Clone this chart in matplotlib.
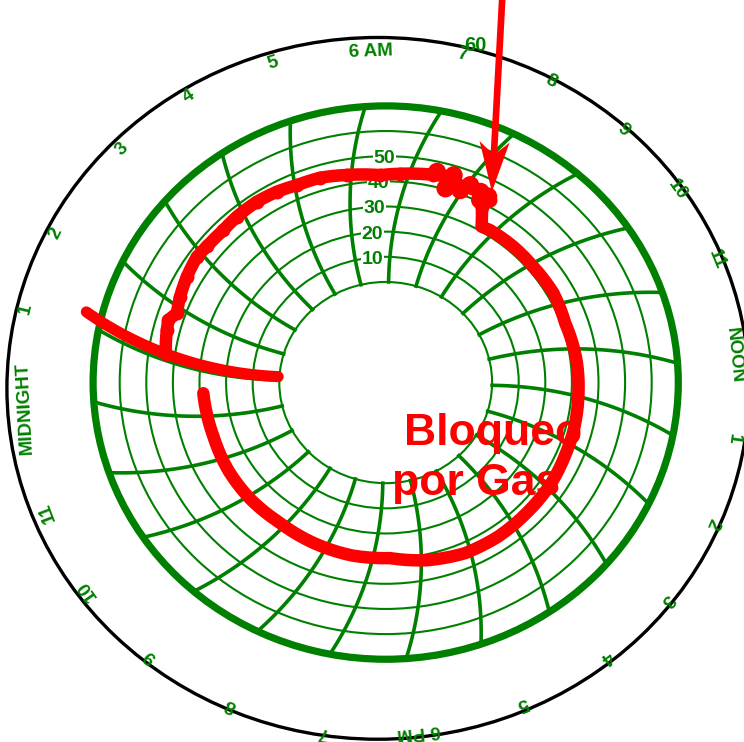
import numpy as np
import matplotlib
matplotlib.use("Agg")
import matplotlib.pyplot as plt
from matplotlib.patches import Polygon, Circle
from matplotlib.lines import Line2D
from matplotlib.transforms import IdentityTransform

plt.rcParams['font.family'] = ['Liberation Sans', 'DejaVu Sans']

GREEN = '#008000'
RED = '#ff0000'

# value scale: 0 sits on the hub circle, 70 on the heavy outer rim
HUB = 40.0
RING_VALUES = [0, 10, 20, 30, 40, 50, 60]
RIM_VALUE = 70
RING_LABELS = [10, 20, 30, 40, 50]
TOP_LABEL = '60'

# clock face, one label per hour of the day (0 = midnight)
HOUR_LABELS = ['MIDNIGHT', '1', '2', '3', '4', '5', '6 AM', '7', '8', '9', '10', '11',
               'NOON', '1', '2', '3', '4', '5', '6 PM', '7', '8', '9', '10', '11']
# printed positions of those labels: bearing (deg, clockwise from top) and
# distance relative to the label circle
HOUR_LABEL_BEARING = [267.0, 283.3, 296.6, 314.1, 327.6, 342.0, 357.9, 12.6, 27.3, 41.2,
                      54.4, 67.6, 84.1, 98.3, 113.1, 127.8, 141.5, 157.2, 174.5, 189.6,
                      204.8, 219.9, 234.8, 249.2]
HOUR_LABEL_DIST = [1.007, 1.032, 1.027, 1.020, 1.022, 1.010, 0.995, 1.009, 1.020, 1.015,
                   1.010, 1.009, 0.985, 0.990, 1.000, 1.004, 1.000, 0.999, 1.008, 1.022,
                   1.021, 1.019, 1.018, 1.010]

# pen set onto the chart: a stroke along the pen arc at a fixed time
SET_HOURS = [1.12, 1.12]
SET_VALUES = [76.0, 0.5]

# recorded trace (clock hours, running past midnight)
TRACE_HOURS = [1.12, 1.53, 1.70, 1.89, 2.17, 2.53, 2.90, 3.15, 3.55, 3.87, 4.29, 4.68,
               5.04, 5.45, 5.93, 6.51, 6.85, 7.39, 7.71, 7.93, 8.11, 8.37, 8.50, 8.47,
               8.73, 8.91, 9.49, 10.07, 10.75, 11.43, 12.25, 12.95, 13.64, 14.26, 14.90,
               15.64, 16.38, 17.11, 17.89, 18.65, 19.43, 20.27, 21.13, 21.93, 22.72,
               23.53, 24.07, 24.51]
TRACE_VALUES = [43.5, 44.9, 45.4, 43.2, 44.5, 45.8, 46.8, 46.3, 46.0, 46.5, 46.7, 46.2,
                45.3, 45.1, 43.8, 42.5, 43.2, 44.5, 45.5, 42.7, 44.0, 44.0, 42.5, 38.7,
                31.7, 32.2, 32.3, 32.1, 32.4, 31.5, 32.3, 32.6, 33.1, 33.4, 34.0,
                34.1, 34.4, 34.1, 32.3, 29.8, 29.9, 29.3, 28.5, 28.8, 28.7,
                28.2, 28.4, 28.7]

# ink blots where the pen chattered before the drop
BLOT_HOURS = [7.43, 7.71, 7.71, 7.96, 8.05, 8.27, 8.43, 8.36]
BLOT_VALUES = [46.0, 46.3, 40.4, 41.5, 44.7, 43.8, 43.4, 40.8]

ARROW_AT = (8.42, 45.7)
NOTE_LINES = ['Bloqueo', 'por Gas']

# chart geometry
ANGLE_6AM = -4.0          # printed face is turned slightly anticlockwise
PIVOT = 137.6             # pen pivot distance from chart centre
ARM = 131.0               # pen arm length
LABEL_CENTRE = (-0.6, -3.0)
LABEL_RADII = (135.0, 136.0)
BORDER_CENTRE = (-2.9, -2.3)
BORDER_RADIUS = 139.5


def arm_angle(r):
    r = np.asarray(r, float)
    c = (r ** 2 + PIVOT ** 2 - ARM ** 2) / (2 * r * PIVOT)
    return np.degrees(np.arccos(c))


def chart_xy(hours, value):
    hours = np.asarray(hours, float)
    r = HUB + np.asarray(value, float)
    shift = arm_angle(HUB + RIM_VALUE) - arm_angle(r)
    th = np.radians(ANGLE_6AM + 15.0 * (hours - 6.0) + shift)
    return r * np.sin(th), r * np.cos(th)


def densify(h, v, per=16):
    h = np.asarray(h, float)
    v = np.asarray(v, float)
    idx = np.arange(len(h))
    s = np.linspace(0, len(h) - 1, (len(h) - 1) * per + 1)
    return np.interp(s, idx, h), np.interp(s, idx, v)


fig = plt.figure(figsize=(7.44, 7.42), dpi=100)
ax = fig.add_axes([0, 0, 1, 1])
ax.set_xlim(-145.0, 134.7)
ax.set_ylim(-142.9, 152.1)
ax.autoscale(False)
ax.axis('off')

# outer black border
ax.add_patch(Circle(BORDER_CENTRE, BORDER_RADIUS, fill=False, edgecolor='black',
                    lw=2.4, zorder=1))

# value rings and the heavy rim
for v in RING_VALUES:
    ax.add_patch(Circle((0, 0), HUB + v, fill=False, edgecolor=GREEN, lw=1.5, zorder=1))
ax.add_patch(Circle((0, 0), HUB + RIM_VALUE, fill=False, edgecolor=GREEN, lw=5.2, zorder=2))

# hour arcs traced by the pen arm
vv = np.linspace(0, RIM_VALUE, 80)
for h in range(24):
    x, y = chart_xy(np.full_like(vv, h), vv)
    ax.plot(x, y, color=GREEN, lw=2.6, zorder=1.5)

# ring values between 6 and 7 AM
for v in RING_LABELS:
    x, y = chart_xy(6.5, v)
    ax.text(x, y, str(v), ha='center', va='center_baseline', fontsize=14,
            fontweight='bold', color=GREEN, zorder=3,
            bbox=dict(facecolor='white', edgecolor='none', pad=0.6))

th60 = np.radians(14.0)
ax.text(LABEL_CENTRE[0] + 142 * np.sin(th60), LABEL_CENTRE[1] + 142 * np.cos(th60),
        TOP_LABEL, ha='center', va='center_baseline', fontsize=14.5,
        fontweight='bold', color=GREEN, zorder=3)

# hour labels round the rim, tops facing outward
for lab, ang, d in zip(HOUR_LABELS, HOUR_LABEL_BEARING, HOUR_LABEL_DIST):
    a = np.radians(ang)
    x = LABEL_CENTRE[0] + d * LABEL_RADII[0] * np.sin(a)
    y = LABEL_CENTRE[1] + d * LABEL_RADII[1] * np.cos(a)
    ax.text(x, y, lab, rotation=-ang, rotation_mode='anchor', ha='center',
            va='center_baseline', fontsize=13.5, fontweight='bold', color=GREEN, zorder=3)

# note
ax.text(40.4, -24.9, NOTE_LINES[0], ha='center', va='baseline', fontsize=32,
        fontweight='bold', color=RED, zorder=4)
ax.text(34.0, -44.7, NOTE_LINES[1], ha='center', va='baseline', fontsize=32,
        fontweight='bold', color=RED, zorder=4)

# pen trace
hs, vs = densify(SET_HOURS, SET_VALUES, per=60)
x, y = chart_xy(hs, vs)
ax.plot(x, y, color=RED, lw=8, solid_capstyle='round', solid_joinstyle='round', zorder=5)

hs, vs = densify(TRACE_HOURS, TRACE_VALUES)
x, y = chart_xy(hs, vs)
ax.plot(x, y, color=RED, lw=9, solid_capstyle='round', solid_joinstyle='round', zorder=5)

morning = np.asarray(TRACE_HOURS) < 8.6
x, y = chart_xy(np.asarray(TRACE_HOURS)[morning], np.asarray(TRACE_VALUES)[morning])
ax.plot(x, y, 'o', ms=10, color=RED, mec='none', zorder=5)

x, y = chart_xy(BLOT_HOURS, BLOT_VALUES)
ax.scatter(x, y, s=170, color=RED, edgecolors='none', zorder=5)

# arrow pointing at the event
tip = ax.transData.transform(chart_xy(*ARROW_AT))
tail = ax.transAxes.transform((0.676, 1.02))
u = (tip - tail) / np.hypot(*(tip - tail))
n = np.array([-u[1], u[0]])
notch = tip - 37 * u
head = np.array([tip, tip - 50 * u + 15 * n, notch, tip - 50 * u - 15 * n])
ax.add_line(Line2D([tail[0], notch[0]], [tail[1], notch[1]], color=RED, lw=4.8,
                   transform=IdentityTransform(), zorder=6))
ax.add_patch(Polygon(head, closed=True, facecolor=RED, edgecolor='none',
                     transform=IdentityTransform(), zorder=6))

fig.savefig('out.png', dpi=100, facecolor='white')
